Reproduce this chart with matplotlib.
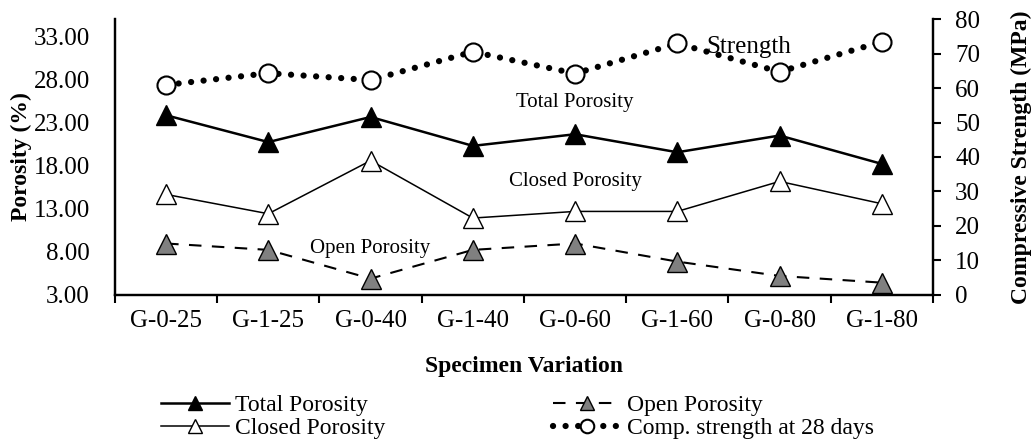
import matplotlib
matplotlib.use("Agg")
import matplotlib.pyplot as plt

plt.rcParams["font.family"] = ["Liberation Serif", "DejaVu Serif"]

SPECIMENS = ["G-0-25", "G-1-25", "G-0-40", "G-1-40", "G-0-60", "G-1-60", "G-0-80", "G-1-80"]
total_porosity = [23.84, 20.73, 23.64, 20.29, 21.64, 19.55, 21.49, 18.20]
closed_porosity = [14.66, 12.42, 18.58, 11.92, 12.69, 12.69, 16.17, 13.58]
open_porosity = [8.97, 8.23, 4.90, 8.23, 8.97, 6.87, 5.21, 4.43]
comp_strength = [60.9, 64.3, 62.3, 70.5, 64.2, 72.9, 64.7, 73.4]

porosity_ticks = [3, 8, 13, 18, 23, 28, 33]
strength_ticks = [0, 10, 20, 30, 40, 50, 60, 70, 80]

fig = plt.figure(figsize=(10.35, 4.42), dpi=100)
ax = fig.add_axes([0.1111, 0.3326, 0.7903, 0.6244])
ax2 = ax.twinx()

x = list(range(len(SPECIMENS)))

h_total, = ax.plot(x, total_porosity, color="black", lw=1.8, marker="^",
                   markersize=14, markerfacecolor="black", markeredgecolor="black",
                   label="Total Porosity", zorder=3)
h_closed, = ax.plot(x, closed_porosity, color="black", lw=1.1, marker="^",
                    markersize=14, markerfacecolor="white", markeredgecolor="black",
                    markeredgewidth=1.0, label="Closed Porosity", zorder=3)
h_open, = ax.plot(x, open_porosity, color="black", lw=1.5, linestyle=(0, (6, 5)),
                  marker="^", markersize=14, markerfacecolor="#808080",
                  markeredgecolor="black", markeredgewidth=1.0,
                  label="Open Porosity", zorder=3)
h_str, = ax2.plot(x, comp_strength, color="black", lw=4.5, linestyle=(0, (0.01, 2.0)),
                  dash_capstyle="round", marker="o", markersize=13,
                  markerfacecolor="white", markeredgecolor="black",
                  markeredgewidth=1.5, label="Comp. strength at 28 days", zorder=3)

ax.set_xlim(-0.5, len(SPECIMENS) - 0.5)
ax.set_ylim(3, 35)
ax2.set_ylim(0, 80)
ax.set_yticks(porosity_ticks)
ax.set_yticklabels([f"{v:.2f}" for v in porosity_ticks])
ax2.set_yticks(strength_ticks)

ax.set_xticks([i - 0.5 for i in range(len(SPECIMENS) + 1)])
ax.set_xticklabels([])
ax.set_xticks(x, minor=True)
ax.set_xticklabels(SPECIMENS, minor=True, fontsize=18)
ax.tick_params(axis="x", which="major", direction="out", length=6, width=1.5)
ax.tick_params(axis="x", which="minor", length=0, pad=11)
ax.tick_params(axis="y", length=0, pad=18, labelsize=18)
ax2.tick_params(axis="y", direction="out", length=6, width=1.5, pad=10, labelsize=18)

for a in (ax, ax2):
    a.spines["top"].set_visible(False)
    for s in ("left", "right", "bottom"):
        a.spines[s].set_linewidth(1.6)

ax.set_xlabel("Specimen Variation", fontsize=17, fontweight="bold", va="center")
ax.xaxis.set_label_coords(0.5, -0.258)
ax.set_ylabel("Porosity (%)", fontsize=17, fontweight="bold", va="center")
ax.yaxis.set_label_coords(-0.114, 0.5)
ax2.set_ylabel("Compressive Strength (MPa)", fontsize=17, fontweight="bold",
               rotation=90, va="center")
ax2.yaxis.set_label_coords(1.108, 0.5)

# inline series labels
ax.text(4.0, 25.3, "Total Porosity", fontsize=15, ha="center", va="center")
ax.text(4.0, 16.15, "Closed Porosity", fontsize=15, ha="center", va="center")
ax.text(2.0, 8.35, "Open Porosity", fontsize=15, ha="center", va="center")
ax2.text(5.7, 72.0, "Strength", fontsize=18, ha="center", va="center")

fig.legend([h_total, h_closed, h_open, h_str],
           [h.get_label() for h in (h_total, h_closed, h_open, h_str)],
           ncol=2, loc="upper center", bbox_to_anchor=(0.5, 0.139), frameon=False,
           fontsize=17, handlelength=2.9, handletextpad=0.25, columnspacing=7.1,
           labelspacing=0.05, markerscale=0.75, borderpad=0.1)

fig.savefig("out.png", dpi=100)
